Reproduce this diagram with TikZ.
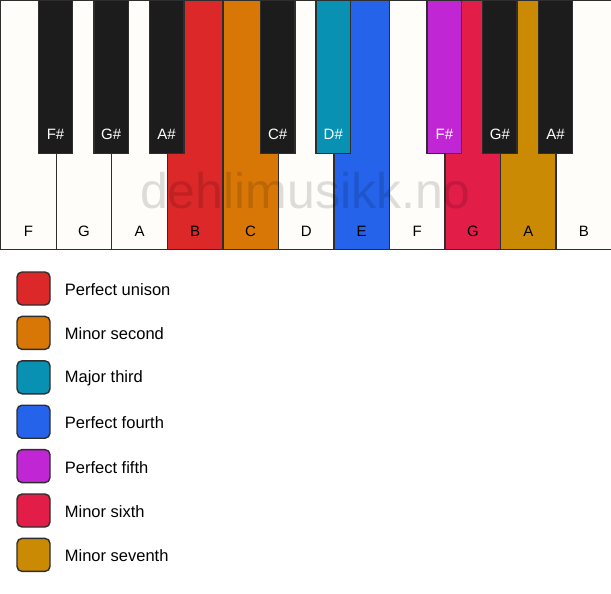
\documentclass[tikz,border=0pt]{standalone}
\usepackage{fontspec}
\setmainfont{Liberation Sans}
\usetikzlibrary{positioning}

\definecolor{ivory}{HTML}{FFFDF9}
\definecolor{keyblack}{HTML}{1C1C1C}
\definecolor{keyline}{HTML}{2E2E2E}
\definecolor{unison}{HTML}{DC2828}
\definecolor{second}{HTML}{D97706}
\definecolor{third}{HTML}{0891B2}
\definecolor{fourth}{HTML}{2563EB}
\definecolor{fifth}{HTML}{C026D3}
\definecolor{sixth}{HTML}{E11D48}
\definecolor{seventh}{HTML}{CA8A04}

\begin{document}
\begin{tikzpicture}[x=1pt,y=-1pt,
    whitekey/.style={draw=keyline,line width=1.4pt,anchor=north west,
                     minimum width=55.545pt,minimum height=249pt,inner sep=0pt},
    blackkey/.style={draw=keyline,line width=1.4pt,anchor=north,
                     minimum width=34.5pt,minimum height=153pt,inner sep=0pt},
    keytext/.style={font=\fontsize{15}{18}\selectfont,inner sep=0pt},
    swatch/.style={draw=keyline,line width=1.4pt,rounded corners=5pt,
                   minimum size=33pt,inner sep=0pt},
    legendtext/.style={font=\fontsize{16.5}{20}\selectfont,inner sep=0pt,anchor=west},
    watermark/.style={font=\fontsize{50}{58}\selectfont,text=black,text opacity=0.13,
                      inner sep=0pt,anchor=base}]

  \useasboundingbox[fill=white] (0,0) rectangle (611,594);

  % white keys
  \foreach \n/\c [count=\i from 0] in {F/ivory,G/ivory,A/ivory,B/unison,C/second,
      D/ivory,E/fourth,F/ivory,G/sixth,A/seventh,B/ivory}
  {
    \node[whitekey,fill=\c] (w\i) at (\i*55.545,0) {};
    \node[keytext] at ([yshift=19pt]w\i.south) {\n};
  }

  % black keys, placed on the boundaries between white keys
  \foreach \b/\n/\c [count=\i] in {1/F\#/keyblack,2/G\#/keyblack,3/A\#/keyblack,
      5/C\#/keyblack,6/D\#/third,8/F\#/fifth,9/G\#/keyblack,10/A\#/keyblack}
  {
    \node[blackkey,fill=\c] (b\i) at (\b*55.545,0) {};
    \node[keytext,text=white] at ([yshift=20pt]b\i.south) {\n};
  }

  \node[watermark] (mark) at (305.5,208) {dehlimusikk.no};

  % legend
  \foreach \c/\t [count=\i from 0] in {unison/Perfect unison,second/Minor second,
      third/Major third,fourth/Perfect fourth,fifth/Perfect fifth,
      sixth/Minor sixth,seventh/Minor seventh}
  {
    \node[swatch,fill=\c] (s\i) at (33.5,288.5+44.4*\i) {};
    \node[legendtext,right=14pt of s\i,yshift=-1pt] (t\i) {\t};
  }

\end{tikzpicture}
\end{document}
